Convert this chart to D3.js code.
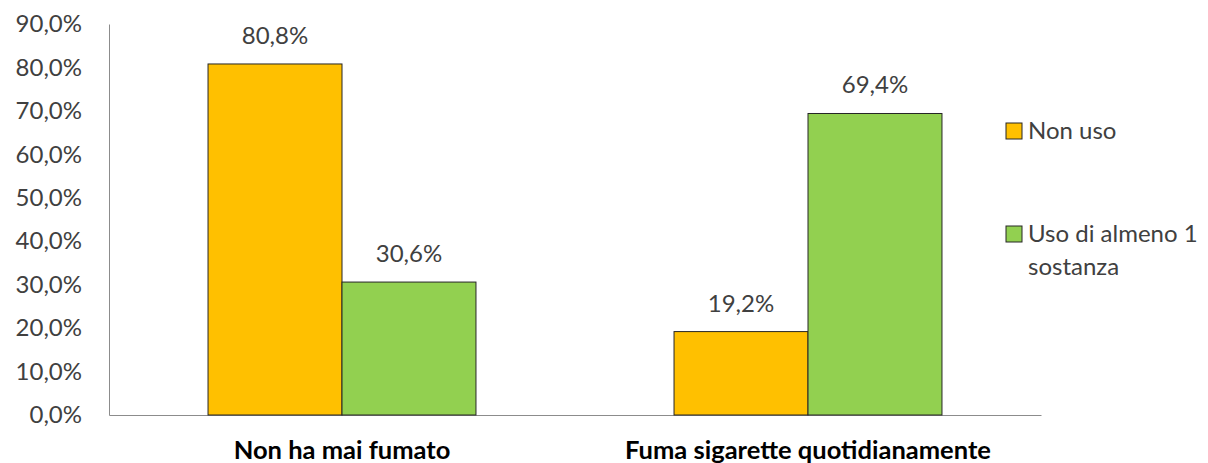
<!DOCTYPE html>
<html>
<head>
<meta charset="utf-8">
<script src="https://cdn.jsdelivr.net/npm/d3@7"></script>
<style>
  html, body { margin: 0; padding: 0; background: #fff; }
  svg text { font-family: Lato, "Open Sans", sans-serif; }
</style>
</head>
<body>
<svg id="chart" width="1208" height="463"></svg>
<script>
// Categories, series and their values (percent)
const categories = ["Non ha mai fumato", "Fuma sigarette quotidianamente"];
const seriesNames = ["Non uso", "Uso di almeno 1 sostanza"];
const nonUso = [80.8, 19.2];
const usoAlmeno1 = [30.6, 69.4];
const yTicks = [0, 10, 20, 30, 40, 50, 60, 70, 80, 90];
const colors = ["#FFC000", "#92D050"];

const seriesValues = [nonUso, usoAlmeno1];
const rows = categories.map((c, i) => ({
  category: c,
  values: seriesNames.map((s, j) => ({ series: s, idx: j, value: seriesValues[j][i] }))
}));

const svg = d3.select("#chart");
const plotLeft = 109, plotRight = 1041, plotTop = 24, plotBottom = 415;

const x = d3.scaleBand().domain(categories).range([plotLeft, plotRight])
  .paddingInner(0.425).paddingOuter(0.2125);
const xs = d3.scaleBand().domain(seriesNames).range([0, x.bandwidth()]);
const y = d3.scaleLinear().domain([0, 90]).range([plotBottom, plotTop]);

const fmt = v => d3.format(".1f")(v).replace(".", ",") + "%";

// Y axis
const yAxis = svg.append("g").attr("transform", `translate(${plotLeft},0)`)
  .call(d3.axisLeft(y).tickValues(yTicks).tickFormat(fmt).tickSize(0).tickPadding(27));
yAxis.select(".domain").attr("stroke", "#8c8c8c");
yAxis.selectAll("text").attr("font-size", 24).attr("fill", "#404040")
  .attr("font-family", "Lato, sans-serif");

// X axis
const xAxis = svg.append("g").attr("transform", `translate(0,${plotBottom})`)
  .call(d3.axisBottom(x).tickSize(0).tickPadding(0));
xAxis.select(".domain").attr("stroke", "#8c8c8c");
xAxis.selectAll("text").remove();

// Category labels
svg.append("g").selectAll("text").data(categories).join("text")
  .attr("x", d => x(d) + x.bandwidth() / 2)
  .attr("y", 459)
  .attr("text-anchor", "middle")
  .attr("font-size", 25.5)
  .attr("font-weight", "bold")
  .attr("fill", "#000")
  .text(d => d);

// Bars
const groups = svg.append("g").selectAll("g").data(rows).join("g")
  .attr("transform", d => `translate(${x(d.category)},0)`);

groups.selectAll("rect").data(d => d.values).join("rect")
  .attr("x", d => xs(d.series))
  .attr("y", d => y(d.value))
  .attr("width", xs.bandwidth())
  .attr("height", d => y(0) - y(d.value))
  .attr("fill", d => colors[d.idx])
  .attr("stroke", "#262626")
  .attr("stroke-width", 1);

// Value labels
groups.selectAll("text").data(d => d.values).join("text")
  .attr("x", d => xs(d.series) + xs.bandwidth() / 2)
  .attr("y", d => y(d.value) - 20)
  .attr("text-anchor", "middle")
  .attr("font-size", 24)
  .attr("fill", "#404040")
  .text(d => fmt(d.value));

// Legend
const legendItems = [
  { lines: ["Non uso"], y: 123 },
  { lines: ["Uso di almeno 1", "sostanza"], y: 226 }
];
const lg = svg.append("g").selectAll("g").data(legendItems).join("g")
  .attr("transform", (d, i) => `translate(1006,${d.y})`);
lg.append("rect")
  .attr("width", 16).attr("height", 16)
  .attr("fill", (d, i) => colors[i])
  .attr("stroke", "#262626").attr("stroke-width", 1);
lg.append("text")
  .attr("x", 22).attr("y", 16)
  .attr("font-size", 24).attr("fill", "#404040")
  .selectAll("tspan").data(d => d.lines).join("tspan")
  .attr("x", 22).attr("dy", (d, i) => i === 0 ? 0 : 33)
  .text(d => d);
</script>
</body>
</html>
